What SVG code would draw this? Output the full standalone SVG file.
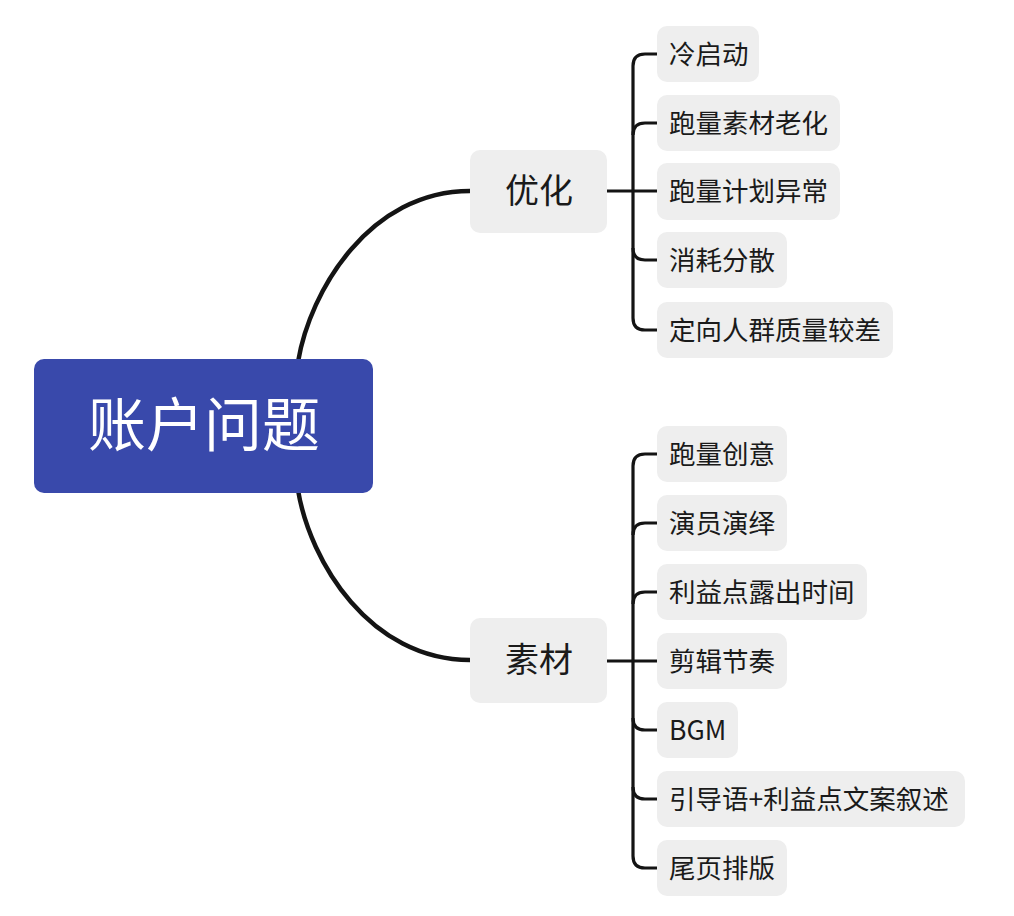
<svg xmlns="http://www.w3.org/2000/svg" width="1014" height="916" viewBox="0 0 1014 916">
<style>
.conn{fill:none;stroke:#141414;stroke-linecap:butt}
.main{stroke-width:4.5}
.br{stroke-width:3.2}
.leaf rect{fill:#EEEEEE}
.leaf text{font-family:"Noto Sans CJK SC","Noto Sans",sans-serif;font-size:26.5px;fill:#1a1a1a}
.sub rect{fill:#EEEEEE}
.sub text{font-family:"Noto Sans CJK SC","Noto Sans",sans-serif;font-size:34px;fill:#1a1a1a;text-anchor:middle}
</style>
<rect width="1014" height="916" fill="#FFFFFF"/>
<g id="connectors">
<path class="conn main" d="M298,362 C310,290 370,191 470,191"/>
<path class="conn main" d="M298,490 C310,562 370,660 470,660"/>
<path class="conn br" d="M607,191 H657"/>
<path class="conn br" d="M657,54 H645 Q633,54 633,66 V318 Q633,330 645,330 H657"/>
<path class="conn br" d="M633,135 Q633,123 645,123 H657"/>
<path class="conn br" d="M633,248 Q633,260 645,260 H657"/>
<path class="conn br" d="M607,661 H657"/>
<path class="conn br" d="M657,454 H645 Q633,454 633,466 V856 Q633,868 645,868 H657"/>
<path class="conn br" d="M633,535 Q633,523 645,523 H657"/>
<path class="conn br" d="M633,604 Q633,592 645,592 H657"/>
<path class="conn br" d="M633,718 Q633,730 645,730 H657"/>
<path class="conn br" d="M633,787 Q633,799 645,799 H657"/>
</g>
<g id="root">
<rect x="34" y="359" width="339" height="134" rx="10" fill="#3949AB"/>
<text x="204" y="446" text-anchor="middle" font-family="Noto Sans CJK SC, Noto Sans, sans-serif" font-size="58" fill="#FFFFFF">账户问题</text>
</g>
<g id="n-youhua" class="sub">
<rect x="470" y="150" width="137" height="83" rx="10"/>
<text x="539" y="203">优化</text>
</g>
<g id="n-sucai" class="sub">
<rect x="470" y="618" width="137" height="85" rx="10"/>
<text x="539" y="672">素材</text>
</g>
<g id="l1" class="leaf"><rect x="657" y="26" width="102" height="56" rx="10"/><text x="669" y="63.5">冷启动</text></g>
<g id="l2" class="leaf"><rect x="657" y="95" width="183" height="56" rx="10"/><text x="669" y="132.5">跑量素材老化</text></g>
<g id="l3" class="leaf"><rect x="657" y="163" width="183" height="57" rx="10"/><text x="669" y="200.5">跑量计划异常</text></g>
<g id="l4" class="leaf"><rect x="657" y="232" width="130" height="56" rx="10"/><text x="669" y="269.5">消耗分散</text></g>
<g id="l5" class="leaf"><rect x="657" y="302" width="236" height="56" rx="10"/><text x="669" y="339.5">定向人群质量较差</text></g>
<g id="l6" class="leaf"><rect x="657" y="426" width="130" height="56" rx="10"/><text x="669" y="463.5">跑量创意</text></g>
<g id="l7" class="leaf"><rect x="657" y="495" width="130" height="56" rx="10"/><text x="669" y="532.5">演员演绎</text></g>
<g id="l8" class="leaf"><rect x="657" y="564" width="210" height="56" rx="10"/><text x="669" y="601.5">利益点露出时间</text></g>
<g id="l9" class="leaf"><rect x="657" y="633" width="130" height="56" rx="10"/><text x="669" y="670.5">剪辑节奏</text></g>
<g id="l10" class="leaf"><rect x="657" y="702" width="81" height="56" rx="10"/><text x="669" y="739.5">BGM</text></g>
<g id="l11" class="leaf"><rect x="657" y="771" width="308" height="56" rx="10"/><text x="669" y="808.5">引导语+利益点文案叙述</text></g>
<g id="l12" class="leaf"><rect x="657" y="840" width="130" height="56" rx="10"/><text x="669" y="877.5">尾页排版</text></g>
</svg>
